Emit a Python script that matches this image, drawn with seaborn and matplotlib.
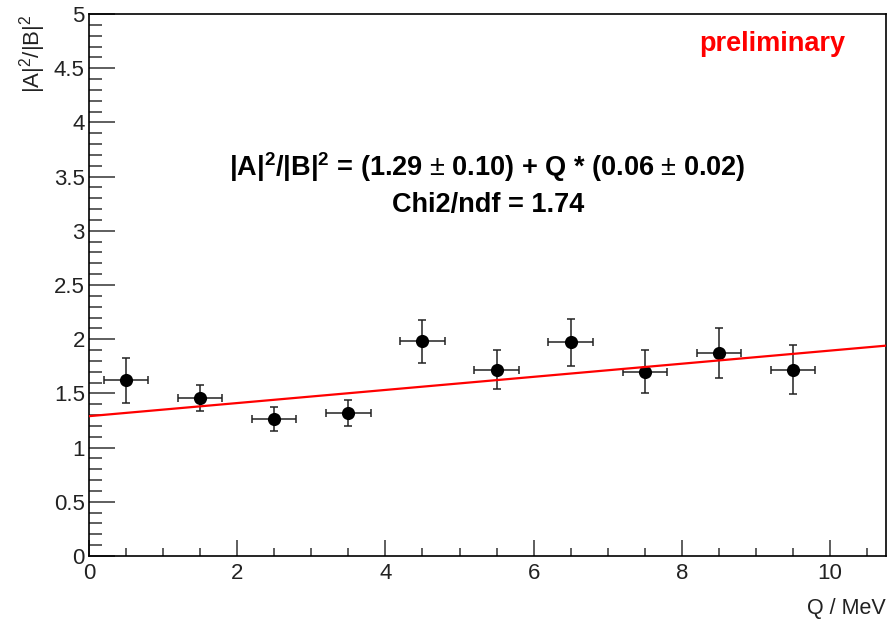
import numpy as np
import pandas as pd
import matplotlib
matplotlib.use("Agg")
import matplotlib.pyplot as plt
from matplotlib.ticker import MultipleLocator
import seaborn as sns

# datos
q = [0.5, 1.5, 2.5, 3.5, 4.5, 5.5, 6.5, 7.5, 8.5, 9.5]
ratio = [1.62, 1.46, 1.265, 1.32, 1.98, 1.72, 1.97, 1.70, 1.87, 1.72]
ratio_err = [0.21, 0.12, 0.11, 0.12, 0.20, 0.18, 0.22, 0.20, 0.23, 0.23]
q_err = [0.3] * 10

# ajuste lineal
fit_p0 = 1.29
fit_p1 = 0.0605
q_max = 10.75

df = pd.DataFrame({"Q": q, "ratio": ratio})
q_fit = np.linspace(0, q_max, 50)
df_fit = pd.DataFrame({"Q": q_fit, "ratio": fit_p0 + fit_p1 * q_fit})

sns.set_theme(style="ticks")
plt.rcParams["font.family"] = ["Liberation Sans", "DejaVu Sans"]
plt.rcParams["mathtext.fontset"] = "custom"
plt.rcParams["mathtext.rm"] = "Liberation Sans"
plt.rcParams["mathtext.it"] = "Liberation Sans"
plt.rcParams["mathtext.bf"] = "Liberation Sans:bold"

fig = plt.figure(figsize=(8.95, 6.2), dpi=100)
ax = fig.add_axes([0.0994, 0.1032, 0.8902, 0.8742])

ax.errorbar(q, ratio, xerr=q_err, yerr=ratio_err, fmt="none",
            ecolor="#222222", elinewidth=1.1, capsize=3, capthick=1.1, zorder=2)
sns.scatterplot(data=df, x="Q", y="ratio", color="black", s=90,
                edgecolor="black", linewidth=0, zorder=3, ax=ax)
sns.lineplot(data=df_fit, x="Q", y="ratio", color="red", linewidth=1.6,
             zorder=4, ax=ax)

ax.set_xlim(0, q_max)
ax.set_ylim(0, 5)

ax.xaxis.set_minor_locator(MultipleLocator(0.5))
ax.yaxis.set_minor_locator(MultipleLocator(0.1))
ax.set_yticks(np.arange(0, 5.01, 0.5))
ax.set_yticklabels(["0", "0.5", "1", "1.5", "2", "2.5", "3", "3.5", "4", "4.5", "5"])
ax.set_xticks([0, 2, 4, 6, 8, 10])
ax.set_xticklabels(["0", "2", "4", "6", "8", "10"])

ax.tick_params(axis="both", which="both", direction="in", colors="#333333",
               labelcolor="#222222", labelsize=16, top=False, right=False)
ax.tick_params(axis="y", which="major", length=18.5, width=1.1, pad=3)
ax.tick_params(axis="y", which="minor", length=9.5, width=1.1)
ax.tick_params(axis="x", which="major", length=11.5, width=1.1, pad=5)
ax.tick_params(axis="x", which="minor", length=6, width=1.1)
for s in ax.spines.values():
    s.set_color("black")
    s.set_linewidth(1.2)

ax.set_xlabel("Q / MeV", fontsize=15.5, loc="right", color="#222222", labelpad=10)
ax.set_ylabel(r"$|A|^{2}/|B|^{2}$", fontsize=16, loc="top", color="#222222",
              labelpad=4)

ax.text(5.38, 3.59,
        r"$\mathbf{|A|^{2}/|B|^{2}}$ = (1.29 $\pm$ 0.10) + Q * (0.06 $\pm$ 0.02)",
        ha="center", va="center", fontsize=19.5, fontweight="bold", color="black")
ax.text(5.38, 3.24, "Chi2/ndf = 1.74",
        ha="center", va="center", fontsize=19.5, fontweight="bold", color="black")
ax.text(0.949, 0.945, "preliminary", transform=ax.transAxes,
        ha="right", va="center", fontsize=19.5, fontweight="bold", color="red")

fig.savefig("out.png", dpi=100)
